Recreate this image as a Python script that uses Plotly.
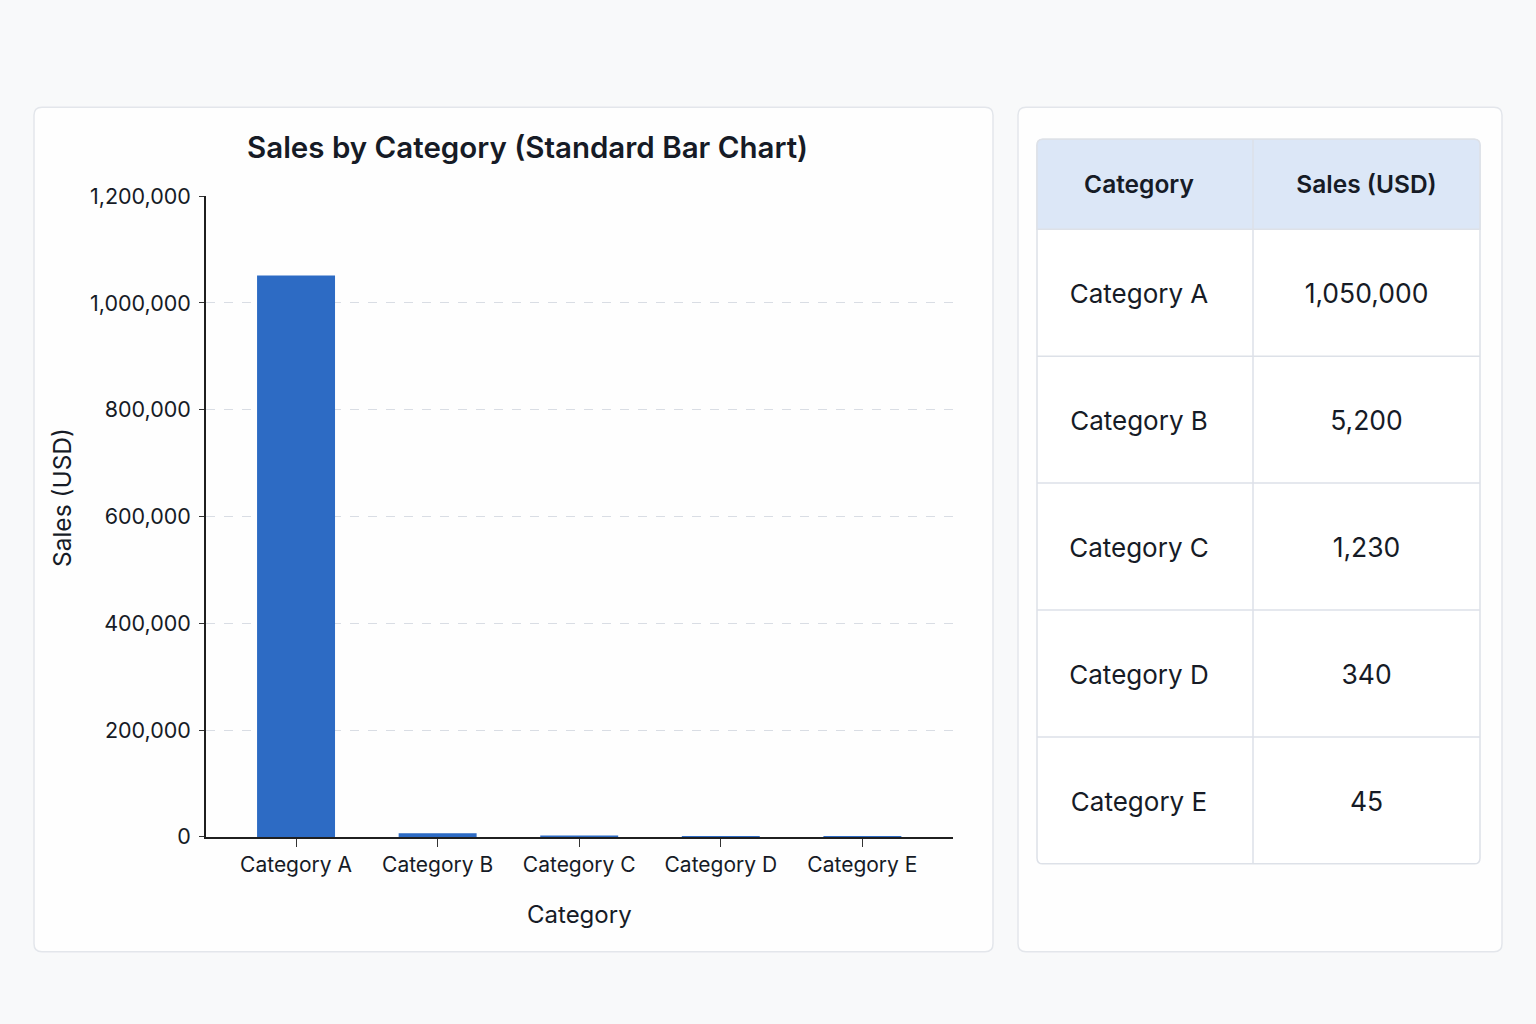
import plotly.graph_objects as go

# ---------------- data ----------------
categories = ["Category A", "Category B", "Category C", "Category D", "Category E"]
sales = [1050000, 5200, 1230, 340, 45]
y_tick_values = [0, 200000, 400000, 600000, 800000, 1000000, 1200000]
table_header = ["Category", "Sales (USD)"]
chart_title = "Sales by Category (Standard Bar Chart)"
x_title = "Category"
y_title = "Sales (USD)"

# ---------------- layout helpers ----------------
W, H = 1536, 1024
# rendered figure appears vertically offset/compressed; compensate
V_OFF, V_H = 12.7, 998.5
FONT = "Inter"
BG = "#f8f9fa"
CARD = "#fefefe"
CARD_LINE = "#e3e6eb"
GRID = "#d9dde4"
TEXT = "#161b26"
BAR = "#2d6bc4"
HEADER_BG = "#dce7f7"
TABLE_LINE = "#dde1e8"


def px(x):
    return x / W


def py(y):
    return 1 - (y - V_OFF) / V_H


def rounded_rect(x0, y0, x1, y1, r):
    X = px
    Y = py
    return (
        f"M {X(x0 + r)},{Y(y0)} L {X(x1 - r)},{Y(y0)} Q {X(x1)},{Y(y0)} {X(x1)},{Y(y0 + r)} "
        f"L {X(x1)},{Y(y1 - r)} Q {X(x1)},{Y(y1)} {X(x1 - r)},{Y(y1)} "
        f"L {X(x0 + r)},{Y(y1)} Q {X(x0)},{Y(y1)} {X(x0)},{Y(y1 - r)} "
        f"L {X(x0)},{Y(y0 + r)} Q {X(x0)},{Y(y0)} {X(x0 + r)},{Y(y0)} Z"
    )


fig = go.Figure()

# ---------------- bar chart ----------------
fig.add_trace(
    go.Bar(
        x=categories,
        y=sales,
        marker=dict(color=BAR, line=dict(color=BAR, width=1.5)),
        width=0.54,
        xaxis="x",
        yaxis="y",
        showlegend=False,
        hoverinfo="x+y",
    )
)

# ---------------- table (drawn on hidden axes) ----------------
TBL_X0, TBL_X1, TBL_Y0, TBL_Y1 = 1037, 1480, 139, 864
tbl_w = TBL_X1 - TBL_X0
tbl_h = TBL_Y1 - TBL_Y0
col_split = 1253 - TBL_X0
header_h = 90
row_h = (tbl_h - header_h) / len(categories)
text_dy = 4  # small baseline correction

col1_x = 102
col2_x = (col_split + tbl_w) / 2
row_centers = [header_h + row_h * (i + 0.5) + text_dy for i in range(len(categories))]

fig.add_trace(
    go.Scatter(
        x=[col1_x, col2_x],
        y=[header_h / 2 + text_dy - 1, header_h / 2 + text_dy - 1],
        text=table_header,
        mode="text",
        textfont=dict(family=FONT, size=24.5, color=TEXT, weight=600),
        xaxis="x2",
        yaxis="y2",
        showlegend=False,
        hoverinfo="skip",
    )
)
fig.add_trace(
    go.Scatter(
        x=[col1_x] * len(categories),
        y=row_centers,
        text=categories,
        mode="text",
        textfont=dict(family=FONT, size=26, color=TEXT),
        xaxis="x2",
        yaxis="y2",
        showlegend=False,
        hoverinfo="skip",
    )
)
fig.add_trace(
    go.Scatter(
        x=[col2_x] * len(sales),
        y=row_centers,
        text=[f"{v:,}" for v in sales],
        mode="text",
        textfont=dict(family=FONT, size=26.5, color=TEXT),
        xaxis="x2",
        yaxis="y2",
        showlegend=False,
        hoverinfo="skip",
    )
)

shapes = []
# cards
shapes.append(dict(type="path", xref="paper", yref="paper", layer="below",
                   path=rounded_rect(34, 107, 993, 952, 8),
                   fillcolor=CARD, line=dict(color=CARD_LINE, width=1.5)))
shapes.append(dict(type="path", xref="paper", yref="paper", layer="below",
                   path=rounded_rect(1018, 107, 1502, 952, 8),
                   fillcolor=CARD, line=dict(color=CARD_LINE, width=1.5)))
# table body background
shapes.append(dict(type="path", xref="paper", yref="paper", layer="below",
                   path=rounded_rect(TBL_X0, TBL_Y0, TBL_X1, TBL_Y1, 6),
                   fillcolor="#ffffff", line=dict(color=TABLE_LINE, width=1.5)))
# header background (rounded top)
hx0, hy0, hx1, hy1, r = TBL_X0, TBL_Y0, TBL_X1, TBL_Y0 + header_h, 6
shapes.append(dict(
    type="path", xref="paper", yref="paper", layer="below",
    path=(f"M {px(hx0)},{py(hy1)} L {px(hx0)},{py(hy0 + r)} Q {px(hx0)},{py(hy0)} {px(hx0 + r)},{py(hy0)} "
          f"L {px(hx1 - r)},{py(hy0)} Q {px(hx1)},{py(hy0)} {px(hx1)},{py(hy0 + r)} L {px(hx1)},{py(hy1)} Z"),
    fillcolor=HEADER_BG, line=dict(color=TABLE_LINE, width=1.5)))
# row separators
for i in range(1, len(categories)):
    yy = header_h + row_h * i
    shapes.append(dict(type="line", xref="x2", yref="y2", layer="below",
                       x0=0, x1=tbl_w, y0=yy, y1=yy,
                       line=dict(color=TABLE_LINE, width=1.5)))
# column separator
shapes.append(dict(type="line", xref="x2", yref="y2", layer="below",
                   x0=col_split, x1=col_split, y0=0, y1=tbl_h,
                   line=dict(color=TABLE_LINE, width=1.5)))

annotations = [
    dict(text=chart_title, xref="paper", yref="paper", x=px(527), y=py(147),
         xanchor="center", yanchor="middle", showarrow=False,
         font=dict(family=FONT, size=29.5, color=TEXT, weight=600)),
    dict(text=y_title, xref="paper", yref="paper", x=px(62), y=py(498),
         xanchor="center", yanchor="middle", showarrow=False, textangle=-90,
         font=dict(family=FONT, size=24.5, color=TEXT)),
    dict(text=x_title, xref="paper", yref="paper", x=px(579), y=py(915),
         xanchor="center", yanchor="middle", showarrow=False,
         font=dict(family=FONT, size=24, color=TEXT)),
]

fig.update_layout(
    width=W,
    height=H,
    margin=dict(l=0, r=0, t=0, b=0),
    paper_bgcolor=BG,
    plot_bgcolor="rgba(0,0,0,0)",
    font=dict(family=FONT, color=TEXT),
    shapes=shapes,
    annotations=annotations,
    xaxis=dict(
        domain=[px(206), px(953)],
        range=[-0.636, 4.64],
        showline=True, linecolor="#1f1f1f", linewidth=1.5,
        ticks="outside", ticklen=8, tickcolor="#333333", tickwidth=1.2,
        tickfont=dict(family=FONT, size=21, color=TEXT),
        showgrid=False, zeroline=False, fixedrange=True,
    ),
    yaxis=dict(
        domain=[py(837), py(196)],
        range=[0, 1200000],
        tickvals=y_tick_values,
        tickformat=",",
        showline=True, linecolor="#1f1f1f", linewidth=1.5,
        ticks="outside", ticklen=5, tickcolor="#333333",
        ticklabelstandoff=4,
        tickfont=dict(family=FONT, size=21.5, color=TEXT),
        showgrid=True, gridcolor=GRID, griddash="dash", gridwidth=1,
        zeroline=False, fixedrange=True,
    ),
    xaxis2=dict(domain=[px(TBL_X0), px(TBL_X1)], range=[0, tbl_w],
                visible=False, fixedrange=True, anchor="y2"),
    yaxis2=dict(domain=[py(TBL_Y1), py(TBL_Y0)], range=[tbl_h, 0],
                visible=False, fixedrange=True, anchor="x2"),
)

fig.write_html(
    "out.html",
    config={"displayModeBar": False},
    post_script="document.body.style.margin='0';document.body.style.overflow='hidden';"
                "document.body.style.background='" + BG + "';",
)
